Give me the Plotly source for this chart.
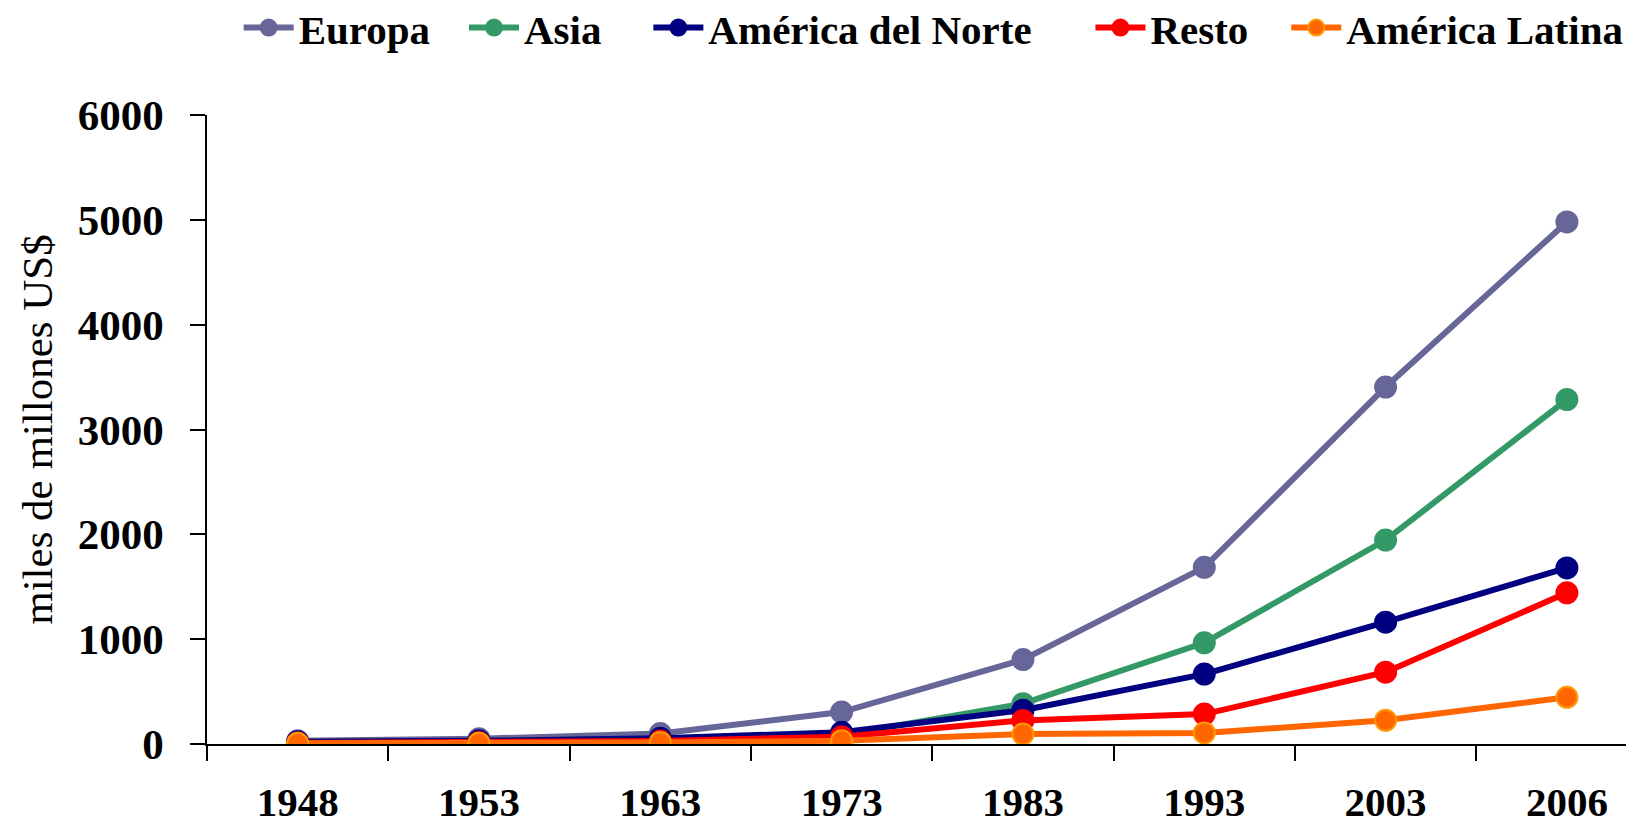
import plotly.graph_objects as go

years = ["1948", "1953", "1963", "1973", "1983", "1993", "2003", "2006"]
europa = [30, 50, 100, 305, 805, 1685, 3405, 4980]
asia = [12, 18, 30, 85, 385, 965, 1945, 3285]
america_norte = [22, 30, 55, 112, 322, 667, 1162, 1680]
resto = [10, 14, 28, 70, 225, 285, 685, 1442]
america_latina = [6, 8, 15, 32, 95, 105, 226, 445]

series_names = ["Europa", "Asia", "América del Norte", "Resto", "América Latina"]
series_values = [europa, asia, america_norte, resto, america_latina]
line_colors = ["#666699", "#339966", "#000080", "#FF0000", "#FF6600"]
edge_colors = ["#666699", "#339966", "#000080", "#FF0000", "#FF9900"]
legend_x = [0.0222, 0.1801, 0.3093, 0.6191, 0.7563]

SERIF = "Palatino Linotype, Book Antiqua, Liberation Serif, serif"

fig = go.Figure()
legend_ids = ["legend", "legend2", "legend3", "legend4", "legend5"]
for i, (name, vals) in enumerate(zip(series_names, series_values)):
    fig.add_trace(go.Scatter(
        x=years, y=vals, name=name, mode="lines+markers",
        line=dict(color=line_colors[i], width=6),
        marker=dict(color=line_colors[i], size=21, line=dict(color=edge_colors[i], width=2)),
        legend=legend_ids[i],
    ))

layout_legends = {}
for i, lid in enumerate(legend_ids):
    layout_legends[lid] = dict(
        orientation="h", x=legend_x[i], xanchor="left", y=1.1385, yanchor="middle",
        font=dict(family=SERIF, size=41, color="black", weight="bold"),
        itemwidth=50, bgcolor="rgba(0,0,0,0)")

fig.update_layout(
    width=1626, height=818,
    margin=dict(l=199.4, r=0, t=106.6, b=82, autoexpand=False),
    paper_bgcolor="white", plot_bgcolor="white",
    showlegend=True,
    xaxis=dict(type="category", range=[-0.5, 7.37], showgrid=False, zeroline=False,
               showline=True, linecolor="black", linewidth=2,
               ticks="outside", ticklen=15, tickwidth=1.5, tickcolor="black",
               tickson="boundaries",
               tickfont=dict(family=SERIF, size=41, color="black", weight="bold"),
               ticklabelstandoff=21),
    yaxis=dict(range=[0, 6000], dtick=1000, showgrid=False, zeroline=False,
               showline=True, linecolor="black", linewidth=1.5,
               ticks="outside", ticklen=15, tickwidth=1.5, tickcolor="black",
               tickfont=dict(family=SERIF, size=43, color="black", weight="bold"),
               ticklabelstandoff=18,
               title=dict(text="miles de millones US$", standoff=12,
                          font=dict(family=SERIF, size=43, color="black"))),
    **layout_legends,
)

fig.write_html("out.html")
